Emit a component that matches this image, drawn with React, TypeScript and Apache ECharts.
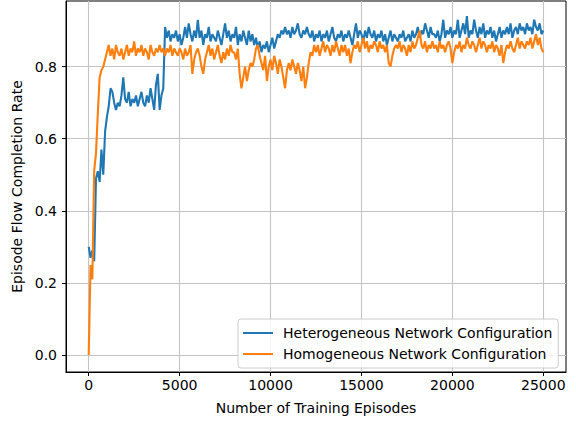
import React, { useEffect, useRef } from "react";
import * as echarts from "echarts";

const episodeStep = 100;

const xTicks = [0, 5000, 10000, 15000, 20000, 25000];
const yTicks = [0.0, 0.2, 0.4, 0.6, 0.8];

const seriesNames = ["Heterogeneous Network Configuration", "Homogeneous Network Configuration"];

// Heterogeneous (blue), one value every 100 episodes, 0..25000
const heteroRates = [
  0.30, 0.27, 0.29, 0.26, 0.49, 0.51, 0.48, 0.57, 0.50, 0.62,
  0.66, 0.69, 0.74, 0.73, 0.70, 0.68, 0.70, 0.69, 0.72, 0.77,
  0.71, 0.70, 0.73, 0.69, 0.71, 0.70, 0.72, 0.69, 0.71, 0.73,
  0.70, 0.69, 0.72, 0.70, 0.74, 0.71, 0.68, 0.75, 0.78, 0.68,
  0.72, 0.74, 0.91, 0.88, 0.90, 0.87, 0.89, 0.88, 0.90, 0.87,
  0.89, 0.86, 0.88, 0.91, 0.88, 0.92, 0.89, 0.87, 0.90, 0.88,
  0.93, 0.88, 0.90, 0.86, 0.89, 0.88, 0.91, 0.87, 0.89, 0.88,
  0.87, 0.90, 0.88, 0.86, 0.89, 0.92, 0.88, 0.90, 0.87, 0.89,
  0.88, 0.91, 0.86, 0.89, 0.87, 0.90, 0.88, 0.86, 0.90, 0.87,
  0.89, 0.86, 0.88, 0.85, 0.87, 0.84, 0.86, 0.85, 0.87, 0.84,
  0.86, 0.88, 0.85, 0.87, 0.89, 0.88, 0.90, 0.89, 0.91, 0.89,
  0.90, 0.88, 0.91, 0.89, 0.90, 0.92, 0.89, 0.88, 0.90, 0.89,
  0.91, 0.89, 0.88, 0.90, 0.87, 0.89, 0.88, 0.90, 0.87, 0.89,
  0.88, 0.90, 0.87, 0.89, 0.91, 0.88, 0.87, 0.89, 0.88, 0.90,
  0.87, 0.89, 0.88, 0.90, 0.88, 0.86, 0.89, 0.92, 0.88, 0.90,
  0.89, 0.87, 0.90, 0.88, 0.91, 0.89, 0.88, 0.90, 0.87, 0.89,
  0.88, 0.90, 0.87, 0.89, 0.86, 0.88, 0.90, 0.87, 0.89, 0.88,
  0.87, 0.89, 0.88, 0.90, 0.87, 0.88, 0.89, 0.87, 0.90, 0.88,
  0.89, 0.91, 0.88, 0.90, 0.89, 0.92, 0.90, 0.88, 0.91, 0.89,
  0.89, 0.88, 0.90, 0.87, 0.89, 0.93, 0.88, 0.90, 0.89, 0.91,
  0.88, 0.90, 0.89, 0.93, 0.88, 0.90, 0.92, 0.89, 0.94, 0.88,
  0.90, 0.89, 0.93, 0.90, 0.88, 0.91, 0.89, 0.92, 0.88, 0.90,
  0.89, 0.91, 0.88, 0.90, 0.87, 0.89, 0.91, 0.88, 0.90, 0.89,
  0.91, 0.89, 0.92, 0.88, 0.90, 0.91, 0.89, 0.92, 0.90, 0.91,
  0.89, 0.92, 0.90, 0.91, 0.89, 0.93, 0.91, 0.90, 0.92, 0.89,
  0.90,
];

// Homogeneous (orange), one value every 100 episodes, 0..25000
const homoRates = [
  0.00, 0.25, 0.21, 0.51, 0.56, 0.67, 0.77, 0.79, 0.80, 0.82,
  0.84, 0.86, 0.83, 0.85, 0.82, 0.86, 0.84, 0.83, 0.85, 0.82,
  0.84, 0.86, 0.83, 0.85, 0.84, 0.87, 0.83, 0.85, 0.84, 0.86,
  0.83, 0.85, 0.84, 0.82, 0.86, 0.84, 0.83, 0.85, 0.84, 0.86,
  0.84, 0.85, 0.83, 0.85, 0.84, 0.86, 0.83, 0.85, 0.84, 0.83,
  0.85, 0.84, 0.82, 0.85, 0.83, 0.84, 0.86, 0.78, 0.82, 0.84,
  0.85, 0.83, 0.80, 0.78, 0.82, 0.84, 0.86, 0.83, 0.85, 0.82,
  0.84, 0.86, 0.83, 0.81, 0.84, 0.82, 0.85, 0.83, 0.86, 0.84,
  0.84, 0.82, 0.85, 0.78, 0.74, 0.77, 0.80, 0.76, 0.79, 0.81,
  0.80, 0.82, 0.85, 0.86, 0.83, 0.81, 0.79, 0.83, 0.76, 0.80,
  0.82, 0.79, 0.83, 0.81, 0.78, 0.82, 0.80, 0.77, 0.74, 0.79,
  0.81, 0.79, 0.82, 0.80, 0.78, 0.81, 0.79, 0.76, 0.80, 0.74,
  0.77, 0.81, 0.84, 0.83, 0.86, 0.84, 0.86, 0.83, 0.85, 0.87,
  0.84, 0.86, 0.85, 0.83, 0.86, 0.84, 0.87, 0.85, 0.83, 0.86,
  0.84, 0.86, 0.83, 0.85, 0.81, 0.84, 0.86, 0.85, 0.87, 0.84,
  0.86, 0.88, 0.85, 0.87, 0.84, 0.86, 0.85, 0.87, 0.86, 0.84,
  0.87, 0.85, 0.86, 0.84, 0.86, 0.81, 0.80, 0.83, 0.85, 0.86,
  0.85, 0.87, 0.84, 0.86, 0.85, 0.83, 0.86, 0.84, 0.87, 0.85,
  0.86, 0.88, 0.90, 0.86, 0.85, 0.87, 0.84, 0.86, 0.85, 0.87,
  0.85, 0.86, 0.84, 0.87, 0.85, 0.86, 0.84, 0.86, 0.87, 0.85,
  0.81, 0.84, 0.86, 0.85, 0.87, 0.84, 0.86, 0.85, 0.88, 0.86,
  0.85, 0.87, 0.86, 0.84, 0.86, 0.88, 0.85, 0.87, 0.86, 0.84,
  0.86, 0.85, 0.87, 0.84, 0.86, 0.85, 0.83, 0.86, 0.81, 0.84,
  0.86, 0.85, 0.87, 0.85, 0.84, 0.86, 0.88, 0.85, 0.87, 0.86,
  0.85, 0.87, 0.86, 0.88, 0.85, 0.87, 0.89, 0.86, 0.88, 0.85,
  0.84,
];

const colors = ["#1f77b4", "#ff7f0e"];
const FONT = "DejaVu Sans";

export default function App() {
  const ref = useRef<HTMLDivElement>(null);

  useEffect(() => {
    if (!ref.current) return;
    const chart = echarts.init(ref.current, undefined, { renderer: "svg" });
    const toPairs = (arr: number[]) => arr.map((v, i) => [i * episodeStep, v]);

    chart.setOption({
      animation: false,
      backgroundColor: "#ffffff",
      textStyle: { fontFamily: FONT },
      grid: {
        left: 66,
        right: 10,
        top: 1,
        bottom: 49,
        show: true,
        borderColor: "#000000",
        borderWidth: 1,
        containLabel: false,
      },
      legend: {
        data: seriesNames,
        orient: "vertical",
        left: 238,
        top: 319,
        padding: [6, 6, 6, 5],
        itemGap: 5,
        itemWidth: 30,
        itemHeight: 2,
        icon: "rect",
        backgroundColor: "rgba(255,255,255,0.85)",
        borderColor: "#cccccc",
        borderWidth: 1,
        borderRadius: 3,
        textStyle: {
          fontFamily: FONT,
          fontSize: 14,
          color: "#000000",
          lineHeight: 16,
          padding: [0, 0, 0, 5],
        },
      },
      xAxis: {
        type: "value",
        min: -1250,
        max: 26250,
        name: "Number of Training Episodes",
        nameLocation: "middle",
        nameGap: 29,
        nameTextStyle: { fontFamily: FONT, fontSize: 14, color: "#000" },
        axisLine: { show: true, onZero: false, lineStyle: { color: "#000", width: 1 } },
        axisTick: { show: true, length: 4, customValues: xTicks, lineStyle: { color: "#000" } },
        axisLabel: {
          customValues: xTicks,
          fontFamily: FONT,
          fontSize: 14,
          color: "#000",
          margin: 6,
          formatter: (v: number) => String(v),
        },
        splitLine: { show: true, lineStyle: { color: "#c4c4c4", width: 1.1 } },
      },
      yAxis: {
        type: "value",
        min: -0.047,
        max: 0.982,
        name: "Episode Flow Completion Rate",
        nameLocation: "middle",
        nameGap: 40,
        nameTextStyle: { fontFamily: FONT, fontSize: 14, color: "#000" },
        axisLine: { show: true, onZero: false, lineStyle: { color: "#000", width: 1 } },
        axisTick: { show: true, length: 4, customValues: yTicks, lineStyle: { color: "#000" } },
        axisLabel: {
          customValues: yTicks,
          fontFamily: FONT,
          fontSize: 14,
          color: "#000",
          margin: 9,
          formatter: (v: number) => v.toFixed(1),
        },
        splitLine: { show: true, lineStyle: { color: "#c4c4c4", width: 1.1 } },
      },
      series: [
        {
          name: seriesNames[0],
          type: "line",
          data: toPairs(heteroRates),
          symbol: "none",
          color: colors[0],
          lineStyle: { color: colors[0], width: 2.1 },
          z: 2,
        },
        {
          name: seriesNames[1],
          type: "line",
          data: toPairs(homoRates),
          symbol: "none",
          color: colors[1],
          lineStyle: { color: colors[1], width: 2.1 },
          z: 3,
        },
      ],
    });

    return () => chart.dispose();
  }, []);

  return (
    <div
      ref={ref}
      style={{ position: "fixed", left: 0, top: 0, width: 576, height: 421 }}
    />
  );
}
